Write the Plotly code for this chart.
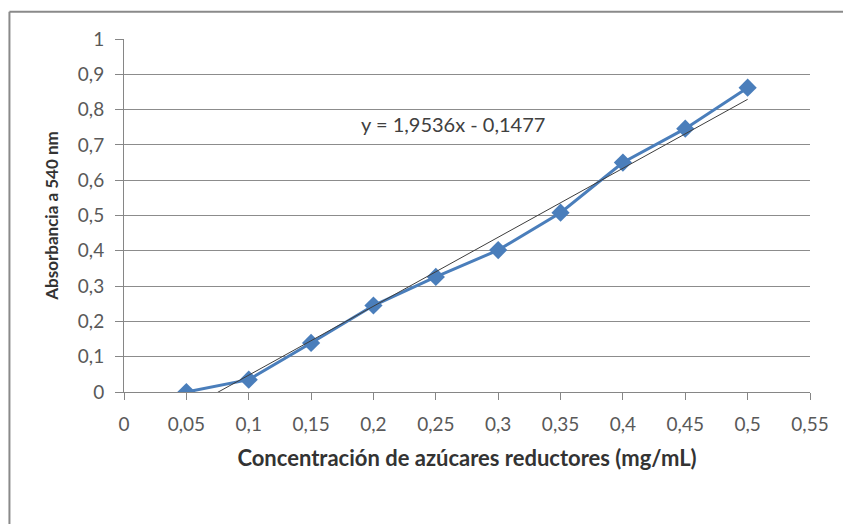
import plotly.graph_objects as go

# Calibration data: reducing sugar concentration vs absorbance at 540 nm
concentracion = [0.05, 0.10, 0.15, 0.20, 0.25, 0.30, 0.35, 0.40, 0.45, 0.50]
absorbancia = [0.000, 0.035, 0.139, 0.245, 0.326, 0.402, 0.508, 0.650, 0.746, 0.862]

# Linear fit reported on the chart
pendiente = 1.9536
intercepto = -0.1477

x_ticks = [0, 0.05, 0.1, 0.15, 0.2, 0.25, 0.3, 0.35, 0.4, 0.45, 0.5, 0.55]
x_labels = ["0", "0,05", "0,1", "0,15", "0,2", "0,25", "0,3", "0,35", "0,4", "0,45", "0,5", "0,55"]
y_ticks = [0, 0.1, 0.2, 0.3, 0.4, 0.5, 0.6, 0.7, 0.8, 0.9, 1]
y_labels = ["0", "0,1", "0,2", "0,3", "0,4", "0,5", "0,6", "0,7", "0,8", "0,9", "1"]

blue = "#4A7EBB"
font_family = "Lato, 'Open Sans', sans-serif"

tend_x = [concentracion[0], concentracion[-1]]
tend_y = [pendiente * v + intercepto for v in tend_x]

fig = go.Figure()
fig.add_trace(go.Scatter(
    x=concentracion, y=absorbancia, mode="lines+markers",
    line=dict(color=blue, width=3),
    marker=dict(symbol="diamond", size=14, color=blue),
    showlegend=False, hoverinfo="x+y",
))
fig.add_trace(go.Scatter(
    x=tend_x, y=tend_y, mode="lines",
    line=dict(color="#3d3d3d", width=1),
    showlegend=False, hoverinfo="skip",
))

fig.add_annotation(
    x=0.264, y=0.759, xref="x", yref="y",
    text="y = 1,9536x - 0,1477", showarrow=False,
    font=dict(family=font_family, size=20, color="#404040"),
)

# Outer chart frame: only the top and left edges fall inside the view
frame = dict(color="#8a8a8a", width=2)
fig.add_shape(type="line", xref="paper", yref="paper",
              x0=-0.167, y0=1.0775, x1=1.3, y1=1.0775, line=frame, layer="below")
fig.add_shape(type="line", xref="paper", yref="paper",
              x0=-0.167, y0=1.0775, x1=-0.167, y1=-0.6, line=frame, layer="below")

fig.update_layout(
    width=843, height=524,
    margin=dict(l=124, r=33, t=39, b=132),
    paper_bgcolor="white", plot_bgcolor="white",
    font=dict(family=font_family, size=19, color="#595959"),
    separators=",.",
    xaxis=dict(
        range=[0, 0.55], tickvals=x_ticks, ticktext=x_labels,
        showgrid=False, zeroline=False,
        showline=True, linecolor="#868686", linewidth=1,
        ticks="outside", ticklen=7, tickcolor="#868686",
        ticklabelstandoff=8,
        tickfont=dict(size=19, color="#595959"),
        title=dict(text="<b>Concentración de azúcares reductores (mg/mL)</b>",
                   font=dict(size=22, color="#333333"), standoff=16),
    ),
    yaxis=dict(
        range=[0, 1], tickvals=y_ticks, ticktext=y_labels,
        showgrid=True, gridcolor="#8c8c8c", gridwidth=1,
        zeroline=False,
        showline=True, linecolor="#868686", linewidth=1,
        ticks="outside", ticklen=8, tickcolor="#868686",
        ticklabelstandoff=7,
        tickfont=dict(size=19, color="#595959"),
        title=dict(text="<b>Absorbancia a 540 nm</b>",
                   font=dict(size=17, color="#333333"), standoff=14),
    ),
)

fig.write_html("out.html")
